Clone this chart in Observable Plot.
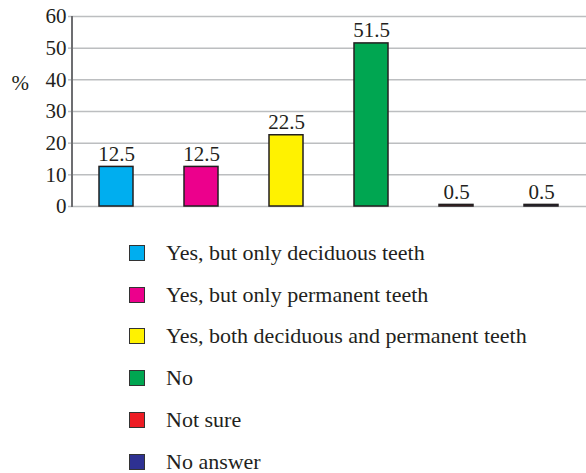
<!DOCTYPE html>
<html>
<head>
<meta charset="utf-8">
<script src="https://cdn.jsdelivr.net/npm/d3@7"></script>
<script src="https://cdn.jsdelivr.net/npm/@observablehq/plot@0.6"></script>
<style>
  body { margin: 0; background: #fff; font-family: "Liberation Serif", "DejaVu Serif", serif; color: #231f20; }
  #legend { margin-top: 12px; }
  .row { display: flex; align-items: center; height: 41.8px; }
  .sw { width: 14px; height: 14px; border: 1.5px solid #333; margin-left: 129px; margin-right: 21px; }
  .lab { font-size: 22px; line-height: 22px; }
  svg text { font-family: "Liberation Serif", "DejaVu Serif", serif; }
</style>
</head>
<body>
<div id="chart"></div>
<div id="legend"></div>
<script>
// Responses and their shares (%)
const categories = [
  "Yes, but only deciduous teeth",
  "Yes, but only permanent teeth",
  "Yes, both deciduous and permanent teeth",
  "No",
  "Not sure",
  "No answer"
];
const values = [12.5, 12.5, 22.5, 51.5, 0.5, 0.5];
const colors = ["#00aeef", "#ec008c", "#fff200", "#00a651", "#ed1c24", "#2e3192"];
const yTicks = [0, 10, 20, 30, 40, 50, 60];

const data = categories.map((c, i) => ({category: c, value: values[i]}));

// vertical axis line along the left edge of the plot
function axisLine(index, scales, values, dims) {
  const g = d3.create("svg:line")
    .attr("x1", dims.marginLeft).attr("x2", dims.marginLeft)
    .attr("y1", scales.y(0) + 1).attr("y2", scales.y(60))
    .attr("stroke", "#6d6e71").attr("stroke-width", 2);
  return g.node();
}

const chart = Plot.plot({
  width: 586,
  height: 220,
  marginTop: 16,
  marginBottom: 14,
  marginLeft: 72,
  marginRight: 0,
  style: {fontFamily: "'Liberation Serif', 'DejaVu Serif', serif", fontSize: "21px", color: "#231f20", background: "#fff"},
  x: {domain: categories, paddingInner: 0.6, paddingOuter: 0.3, axis: null},
  y: {domain: [0, 60], ticks: yTicks},
  color: {domain: categories, range: colors},
  marks: [
    Plot.gridY(yTicks, {stroke: "#bcbec0", strokeOpacity: 1, strokeWidth: 1.5}),
    Plot.axisY(yTicks, {tickSize: 4, tickPadding: 2, stroke: "#bcbec0", strokeWidth: 1.5, fontSize: 21, fill: "#231f20", label: null}),
    Plot.barY(data, {x: "category", y: "value", fill: "category", stroke: "#231f20", strokeWidth: 1.5}),
    Plot.text(data, {x: "category", y: "value", text: d => d.value.toFixed(1), dy: -13, fontSize: 21, fill: "#231f20"}),
    Plot.text(["%"], {frameAnchor: "left", y: [39], dx: -61, fontSize: 21, fill: "#231f20"}),
    axisLine
  ]
});
document.getElementById("chart").append(chart);

const legend = d3.select("#legend");
categories.forEach((c, i) => {
  const row = legend.append("div").attr("class", "row");
  row.append("div").attr("class", "sw").style("background", colors[i]);
  row.append("div").attr("class", "lab").text(c);
});
</script>
</body>
</html>
